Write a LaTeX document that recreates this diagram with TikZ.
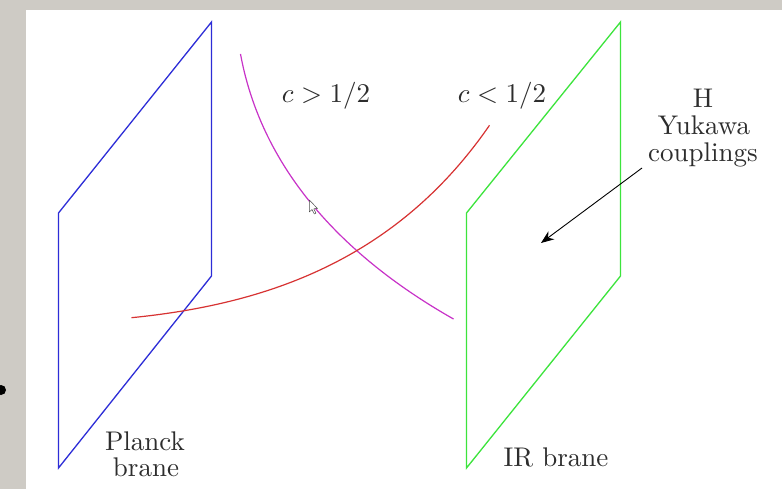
\documentclass[tikz,border=0pt]{standalone}
\usetikzlibrary{arrows.meta}
\definecolor{bgrey}{RGB}{206,203,197}
\definecolor{pblue}{RGB}{45,45,215}
\definecolor{pgreen}{RGB}{60,228,60}
\definecolor{pmag}{RGB}{200,50,200}
\definecolor{pred}{RGB}{215,50,50}
\definecolor{txt}{RGB}{45,45,45}
\newcommand{\bigtxt}[1]{\scalebox{2.7}{#1}}
\begin{document}
\begin{tikzpicture}[x=1pt,y=-1pt,
  brane/.style={line width=1.3pt, line join=miter},
  curve/.style={line width=1.2pt},
  lbl/.style={text=txt, inner sep=0pt, anchor=base},
]
\useasboundingbox (0,0) rectangle (782,489);
\fill[bgrey] (0,0) rectangle (782,489);
\fill[white] (26,10) rectangle (782,489);
\fill[black] (1,390) circle (5);
% branes
\draw[brane, pblue] (58.5,213) -- (211.5,22) -- (211.5,276) -- (58.5,468) -- cycle;
\draw[brane, pgreen] (466.5,213) -- (620.5,22) -- (620.5,276) -- (466.5,468) -- cycle;
% profiles
\draw[curve, pmag] (240.5,54) .. controls (264,182) and (360,266) .. (453.5,319);
\draw[curve, pred] (131.5,317.7) .. controls (261.5,304.7) and (394.5,263) .. (489.5,125.3);
% labels
\node[lbl] (cgt) at (326,103) {\bigtxt{$c>1/2$}};
\node[lbl] (clt) at (502,103) {\bigtxt{$c<1/2$}};
\node[lbl] (h) at (703,108) {\bigtxt{H}};
\node[lbl] (yuk) at (704,135) {\bigtxt{Yukawa}};
\node[lbl] (coup) at (703,162) {\bigtxt{couplings}};
\node[lbl] (planck) at (145,450) {\bigtxt{Planck}};
\node[lbl] (brane1) at (146,476.7) {\bigtxt{brane}};
\node[lbl] (ir) at (556,466) {\bigtxt{IR brane}};
% arrow
\coordinate (as) at (642,168);
\coordinate (ae) at (541,243);
\draw[-{Stealth[length=13pt,width=10pt]}, line width=0.9pt] (as) -- (ae);
% mouse cursor
\draw[fill=white, draw=black!70, line width=0.5pt, line join=round]
  (309.3,200) -- (309.3,212) -- (312,209.5) -- (314.3,214) -- (316,213.2) -- (313.8,208.8) -- (317.5,208.5) -- cycle;
\end{tikzpicture}
\end{document}
